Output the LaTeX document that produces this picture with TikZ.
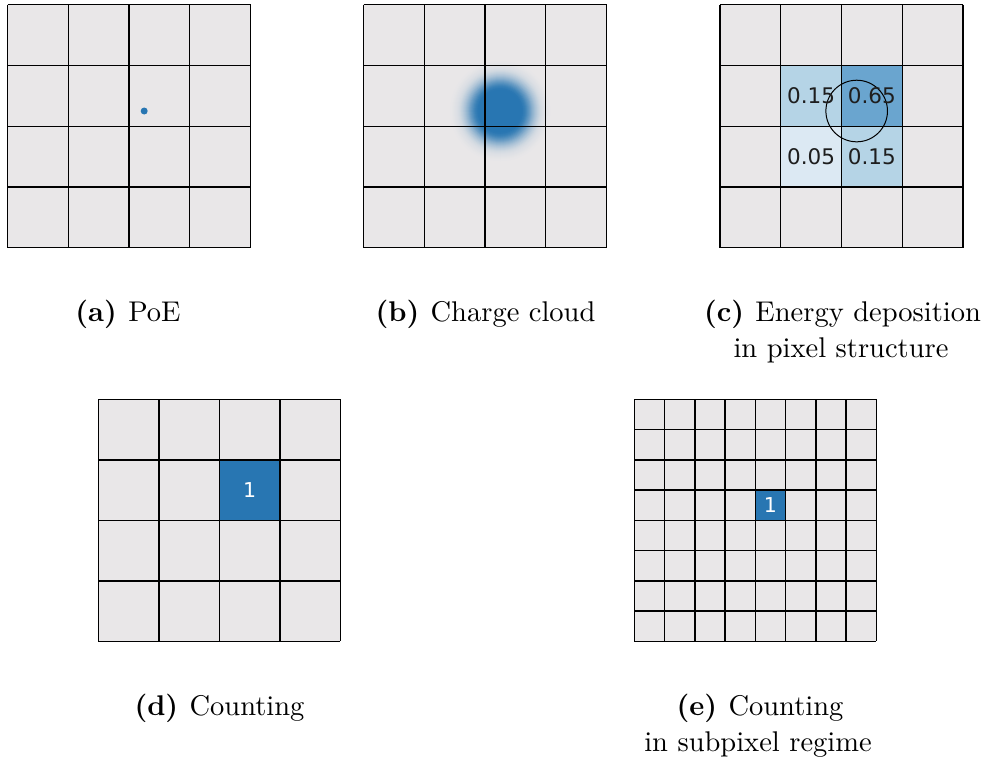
\documentclass[tikz,border=0pt]{standalone}
\usepackage{fontspec}
\setmainfont{lmroman10-regular.otf}[BoldFont=lmroman10-bold.otf]
\newfontfamily\numfont{DejaVu Sans}
\definecolor{cellgray}{RGB}{233,231,232}
\definecolor{cblue}{RGB}{40,118,178}
\definecolor{cC}{RGB}{106,165,207}
\definecolor{cB}{RGB}{181,212,230}
\definecolor{cA}{RGB}{220,233,243}
\definecolor{numtxt}{RGB}{30,30,30}
\tikzset{
  gridline/.style={draw=black, line width=1.4pt},
  numlabel/.style={font=\numfont\fontsize{21.5}{24}\selectfont, text=numtxt, inner sep=0pt},
  onelabel/.style={font=\numfont\fontsize{20.5}{24}\selectfont, text=white, inner sep=0pt},
  caption/.style={font=\fontsize{28.5}{36}\selectfont, anchor=base, inner sep=0pt},
}
\newcommand\pixgrid[1]{%
  \fill[cellgray] (0,0) rectangle (#1,#1);
}
\newcommand\pixlines[1]{%
  \foreach \i in {0,...,#1} {
    \draw[gridline] (\i,0) -- (\i,#1);
    \draw[gridline] (0,\i) -- (#1,\i);
  }
}
\begin{document}
\begin{tikzpicture}[x=1pt, y=-1pt]
\useasboundingbox (0,0) rectangle (989,758);
% (a)
\begin{scope}[shift={(7.5,4.7)}, x=60.75pt, y=-60.75pt]
  \pixgrid{4}
  \pixlines{4}
  \fill[cblue] (2.25,1.75) circle[radius=3.5pt];
\end{scope}
% (b)
\begin{scope}[shift={(363.5,4.7)}, x=60.75pt, y=-60.75pt]
  \pixgrid{4}
\end{scope}
\foreach \r in {50,49,...,1} {
  \pgfmathtruncatemacro\p{\r<=21 ? 100 : 100*exp(-((\r-21)/14)^2)}
  \fill[cblue!\p!cellgray] (500.2,111) circle[radius=\r pt];
}
\begin{scope}[shift={(363.5,4.7)}, x=60.75pt, y=-60.75pt]
  \pixlines{4}
\end{scope}
% (c)
\begin{scope}[shift={(720,4.7)}, x=60.75pt, y=-60.75pt]
  \pixgrid{4}
  \fill[cB] (1,1) rectangle (2,2);
  \fill[cC] (2,1) rectangle (3,2);
  \fill[cA] (1,2) rectangle (2,3);
  \fill[cB] (2,2) rectangle (3,3);
  \pixlines{4}
  \draw[black, line width=1pt] (2.25,1.75) circle[radius=30.8pt];
  \node[numlabel] (c11) at (1.5,1.5) {0.15};
  \node[numlabel] (c21) at (2.5,1.5) {0.65};
  \node[numlabel] (c12) at (1.5,2.5) {0.05};
  \node[numlabel] (c22) at (2.5,2.5) {0.15};
\end{scope}
% (d)
\begin{scope}[shift={(98.3,399.3)}, x=60.5pt, y=-60.5pt]
  \pixgrid{4}
  \fill[cblue] (2,1) rectangle (3,2);
  \pixlines{4}
  \node[onelabel] (d1) at (2.5,1.5) {1};
\end{scope}
% (e)
\begin{scope}[shift={(634.3,399.3)}, x=30.25pt, y=-30.25pt]
  \pixgrid{8}
  \fill[cblue] (4,3) rectangle (5,4);
  \pixlines{8}
  \node[onelabel] (e1) at (4.5,3.5) {1};
\end{scope}
% captions
\node[caption] (capA) at (128,321) {\textbf{(a)}\hspace{0.4em}PoE};
\node[caption] (capB) at (485.5,321) {\textbf{(b)}\hspace{0.4em}Charge cloud};
\node[caption] (capC1) at (842.5,321) {\textbf{(c)}\hspace{0.4em}Energy deposition};
\node[caption] (capC2) at (841,357) {in pixel structure};
\node[caption] (capD) at (219.5,715) {\textbf{(d)}\hspace{0.4em}Counting};
\node[caption] (capE1) at (760,715) {\textbf{(e)}\hspace{0.4em}Counting};
\node[caption] (capE2) at (758,751) {in subpixel regime};
\end{tikzpicture}
\end{document}
